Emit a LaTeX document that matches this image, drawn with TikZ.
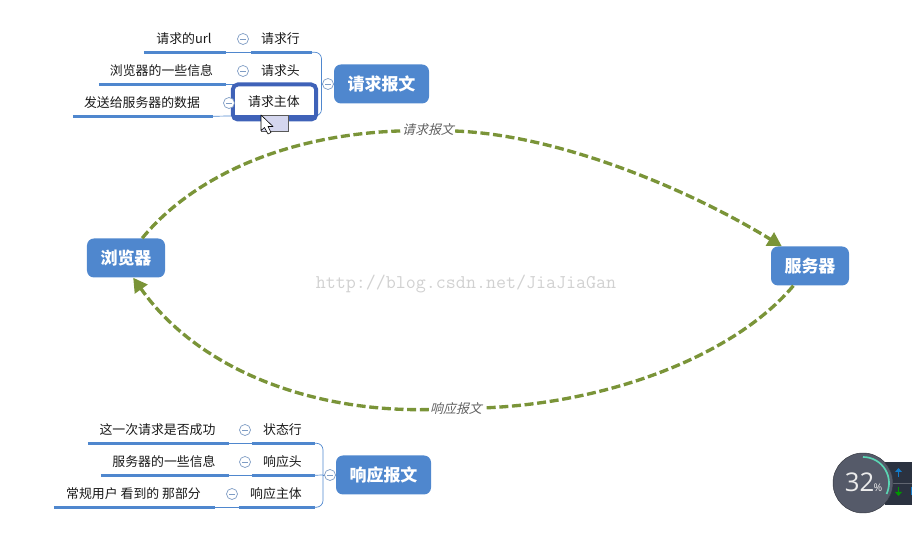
\documentclass[tikz,border=0pt]{standalone}
\usepackage{fontspec}
\setmainfont{Noto Sans CJK SC}
\newfontfamily\slantfont[FakeSlant=0.25]{Noto Sans CJK SC}
\newfontfamily\gaugefont{Open Sans}
\usetikzlibrary{arrows.meta}
\definecolor{topicblue}{HTML}{4F87CE}
\definecolor{foldgray}{HTML}{7E9CC4}
\definecolor{flowgreen}{HTML}{7A9438}
\definecolor{boxblue}{HTML}{3F62B8}
\definecolor{gaugegray}{HTML}{555A69}
\definecolor{gaugeteal}{HTML}{5AD6B4}
\definecolor{paneldark}{HTML}{2B3240}
\definecolor{cursorfill}{HTML}{D4D6EE}
\tikzset{
	msgbox/.style={fill=topicblue, rounded corners=.21cm, text=white, font=\fontsize{14.5}{17}\selectfont\bfseries,
		minimum width=2.85cm, minimum height=1.17cm, inner sep=0},
	endbox/.style={msgbox, minimum width=2.34cm},
	textnode/.style={inner sep=0, minimum height=.78cm, font=\fontsize{11}{13}\selectfont, text=black!90},
	underline/.style={line width=.09cm, color=topicblue},
	branch/.style={line width=.6pt, color=topicblue, rounded corners=.2cm},
	foldmark/.style={circle, draw=foldgray, fill=white, line width=.6pt, minimum size=.33cm, inner sep=0,
		path picture={\draw[foldgray, line width=.6pt] ([xshift=-.08cm]path picture bounding box.center) -- ([xshift=.08cm]path picture bounding box.center);}},
	flow/.style={line width=.1cm, color=flowgreen, dash pattern=on .27cm off .11cm},
	flowtip/.style={-{Triangle[length=.42cm, width=.45cm]}},
	flowlabel/.style={inner sep=1pt, font=\slantfont\fontsize{11}{13}\selectfont, text=black!62}
}
\begin{document}
\begin{tikzpicture}[x=.03cm, y=-.03cm]
\useasboundingbox (0,0) rectangle (912,545);
% draw watermark
	\node[font=\ttfamily\fontsize{16.6}{19}\selectfont, text=black!18] (watermark) at (466,284) {http://blog.csdn.net/JiaJiaGan};
% draw main nodes
	\node[endbox] (browser) at (126,258) {浏览器};
	\node[endbox] (server) at (810,266) {服务器};
	\node[msgbox] (reqmsg) at (381.5,84) {请求报文};
	\node[msgbox] (respmsg) at (383.5,475) {响应报文};
	\node[flowlabel] (reqlabel) at (428,130) {请求报文};
	\node[flowlabel] (resplabel) at (456,409) {响应报文};
% draw flow curves
	\draw[flow] (browser) .. controls (190,180) and (280,135) .. (reqlabel);
	\draw[flow, flowtip] (reqlabel) .. controls (560,135) and (690,190) .. (server.145);
	\draw[flow] (server) .. controls (735,355) and (610,403) .. (resplabel);
	\draw[flow, flowtip] (resplabel) .. controls (315,412) and (200,372) .. (browser.-70);
% draw topics and leaves
	\foreach \name/\x/\y/\w/\txt in {reqline/281.5/39/61/请求行, reqhead/281.5/71/61/请求头, 
		respstate/283.5/430/63/状态行, resphead/283.5/462/63/响应头, respbody/277/494/76/响应主体,
		urlleaf/185/39/82/请求的url, infoleaf/162.5/71/127/浏览器的一些信息, dataleaf/143/103/140/发送给服务器的数据,
		okleaf/158.5/430/141/这一次请求是否成功, srvleaf/165/462/128/服务器的一些信息, userleaf/134.5/494/161/常规用户 看到的 那部分}
	{
		\node[textnode, minimum width=\w*.03cm] (\name) at (\x,\y) {\raisebox{-1.2pt}{\txt}\hspace*{1.7pt}};
		\draw[underline] (\name.south west) -- (\name.south east);
	}
% draw branches
	\coordinate (reqbend) at (321.5,84);
	\coordinate (respbend) at (323,475);
	\coordinate (bodyleft) at (232,116);
	\coordinate (bodyright) at (317,116);
	\draw[branch] (reqline.south east) -| (reqbend) |- (bodyright);
	\draw[branch] (respstate.south east) -| (respbend) |- (respbody.south east);
	\draw[branch] (resphead.south east) -- (respbend);
	\draw[branch] (urlleaf.south east) -- (reqline.south west);
	\draw[branch] (infoleaf.south east) -- (reqhead.south west);
	\draw[branch] (dataleaf.south east) -- (bodyleft);
	\draw[branch] (okleaf.south east) -- (respstate.south west);
	\draw[branch] (srvleaf.south east) -- (resphead.south west);
	\draw[branch] (userleaf.south east) -- (respbody.south west);
	\draw[branch] (reqbend) -- (reqmsg);
	\draw[branch] (respbend) -- (respmsg);
% draw selected box
	\node[draw=boxblue, fill=white, line width=.12cm, rounded corners=.15cm, minimum width=2.5cm, minimum height=1.05cm, inner sep=0, font=\fontsize{11}{13}\selectfont, text=black!90] (reqbody) at (274.5,102) {\raisebox{-1.2pt}{请求主体}\hspace*{1pt}};
	\draw[line width=.13cm, color=boxblue] ([shift={(2,1)}]bodyleft) -- ([shift={(-2,1)}]bodyright);
% draw fold marks
	\foreach \name/\x/\y in {foldline/243/39, foldhead/243/71, foldbody/229/103, foldreq/328/84,
		foldstate/245/430, foldresp/245/462, foldmain/232/494, foldmsg/330/475}
		\node[foldmark] (\name) at (\x,\y) {};
% draw cursor
	\draw[fill=cursorfill, draw=black!65, line width=.4pt] (261,115) rectangle (288.5,131);
	\draw[fill=white, draw=black, line width=.5pt, line join=round] (261,115) -- (261,130.5) -- (264.5,127.5) -- (268,134) -- (271,132.5) -- (268,126.5) -- (273,126.5) -- cycle;
% draw gauge
	\fill[paneldark] (885,462) rectangle (912,505);
	\draw[draw=white!25!paneldark, line width=.4pt] (885,483) -- (912,483);
	\draw[-{Triangle[length=.12cm, width=.2cm]}, line width=.05cm, color=cyan!60!blue] (898.5,477) -- (898.5,468);
	\draw[-{Triangle[length=.12cm, width=.2cm]}, line width=.05cm, color=green!60!black] (898.5,487) -- (898.5,496);
	\fill[color=cyan!60!blue] (910.5,487) rectangle (912,495);
	\draw[fill=gaugegray, draw=black!40!gaugegray, line width=.4pt] (863,483) circle (30);
	\draw[draw=gaugeteal, line width=.05cm] (863,457) arc (-90:25:26);
	\node[font=\gaugefont\fontsize{22}{24}\selectfont, text=white!85!gray, inner sep=0] (gaugenum) at (859.5,482) {32};
	\node[font=\gaugefont\fontsize{9}{10}\selectfont, text=white!85!gray, inner sep=0, anchor=west] (gaugepct) at (873.5,488) {\%};
\end{tikzpicture}
\end{document}
